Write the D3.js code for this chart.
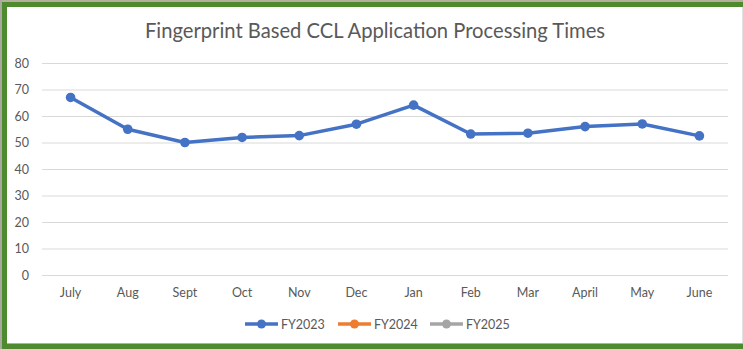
<!DOCTYPE html>
<html>
<head>
<meta charset="utf-8">
<script src="https://cdn.jsdelivr.net/npm/d3@7"></script>
<style>
  html, body { margin: 0; padding: 0; background: #fff; }
  svg { display: block; }
</style>
</head>
<body>
<svg id="chart" width="743" height="349"></svg>
<script>
// Monthly processing times (days)
const months = ["July", "Aug", "Sept", "Oct", "Nov", "Dec", "Jan", "Feb", "Mar", "April", "May", "June"];
const fy2023 = [67, 55, 50, 51.9, 52.6, 56.9, 64.1, 53.2, 53.5, 56, 57, 52.5];
const fy2024 = [];
const fy2025 = [];
const seriesNames = ["FY2023", "FY2024", "FY2025"];
const seriesColors = ["#4472C4", "#ED7D31", "#A5A5A5"];
const yTicks = [0, 10, 20, 30, 40, 50, 60, 70, 80];

const W = 743, H = 349;
const svg = d3.select("#chart");
const font = "Lato, 'Open Sans', sans-serif";

// Frame
svg.append("rect").attr("x", 0).attr("y", 0).attr("width", W).attr("height", H).attr("fill", "#fff");
svg.append("rect").attr("x", 0).attr("y", 0).attr("width", W).attr("height", 2).attr("fill", "#b5b09c");
svg.append("rect").attr("x", 0).attr("y", 0).attr("width", 2).attr("height", H).attr("fill", "#a9a9a0");
svg.append("rect").attr("x", 2).attr("y", 2).attr("width", W - 2).attr("height", 5).attr("fill", "#4e8a2e");
svg.append("rect").attr("x", 2).attr("y", 2).attr("width", 5).attr("height", H - 2).attr("fill", "#4e8a2e");
svg.append("rect").attr("x", 2).attr("y", 344).attr("width", W - 2).attr("height", 5).attr("fill", "#4e8a2e");
svg.append("rect").attr("x", 7).attr("y", 343).attr("width", W - 7).attr("height", 1).attr("fill", "#9fbf8c");
svg.append("rect").attr("x", 742).attr("y", 7).attr("width", 1).attr("height", 336).attr("fill", "#e2e2e2");

// Title
svg.append("text")
  .attr("x", 375).attr("y", 38)
  .attr("text-anchor", "middle")
  .attr("font-family", font).attr("font-size", 20.2)
  .attr("fill", "#595959")
  .text("Fingerprint Based CCL Application Processing Times");

const x = d3.scaleBand().domain(months).range([42, 728]);
const y = d3.scaleLinear().domain([0, 80]).range([275, 63]);

// Gridlines
svg.append("g").selectAll("line").data(yTicks).join("line")
  .attr("x1", 42).attr("x2", 728)
  .attr("y1", d => y(d) + 0.5).attr("y2", d => y(d) + 0.5)
  .attr("stroke", "#d9d9d9").attr("stroke-width", 1);

// Y axis labels
const yAxis = d3.axisLeft(y).tickValues(yTicks).tickSize(0).tickPadding(0);
const gy = svg.append("g").attr("transform", "translate(29,0)").call(yAxis);
gy.select(".domain").remove();
gy.selectAll("text").attr("font-family", font).attr("font-size", 12.5).attr("fill", "#595959");

// X axis labels
const xAxis = d3.axisBottom(x).tickSize(0).tickPadding(0);
const gx = svg.append("g").attr("transform", "translate(0,288)").call(xAxis);
gx.select(".domain").remove();
gx.selectAll("text").attr("font-family", font).attr("font-size", 12.5).attr("fill", "#595959");

// Series
const cx = (i) => x(months[i]) + x.bandwidth() / 2;
[fy2023, fy2024, fy2025].forEach((vals, k) => {
  if (!vals.length) return;
  const line = d3.line().x((d, i) => cx(i)).y(d => y(d));
  svg.append("path").datum(vals)
    .attr("d", line).attr("fill", "none")
    .attr("stroke", seriesColors[k]).attr("stroke-width", 3.5)
    .attr("stroke-linejoin", "round").attr("stroke-linecap", "round");
  svg.append("g").selectAll("circle").data(vals).join("circle")
    .attr("cx", (d, i) => cx(i)).attr("cy", d => y(d))
    .attr("r", 4.8).attr("fill", seriesColors[k]);
});

// Legend
const legendX = [245, 338, 430];
const lg = svg.append("g");
seriesNames.forEach((name, k) => {
  const g = lg.append("g").attr("transform", `translate(${legendX[k]},324)`);
  g.append("line").attr("x1", 0).attr("x2", 33).attr("y1", 0).attr("y2", 0)
    .attr("stroke", seriesColors[k]).attr("stroke-width", 3.5);
  g.append("circle").attr("cx", 16.5).attr("cy", 0).attr("r", 4.5).attr("fill", seriesColors[k]);
  g.append("text").attr("x", 36).attr("y", 4.5)
    .attr("font-family", font).attr("font-size", 12.5).attr("fill", "#595959")
    .text(name);
});
</script>
</body>
</html>
